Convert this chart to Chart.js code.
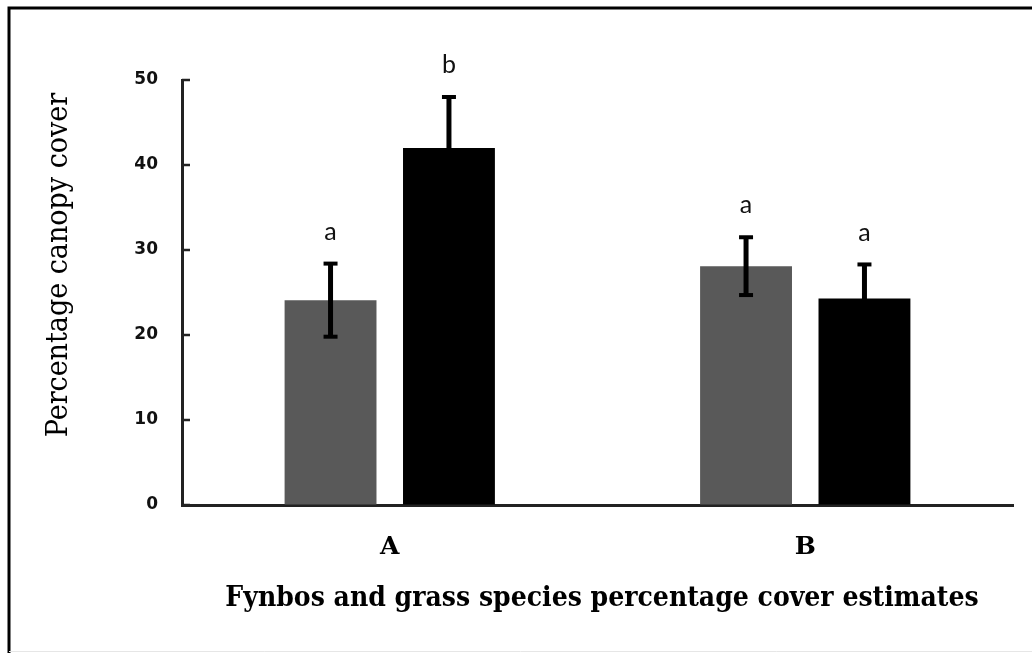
<!DOCTYPE html>
<html>
<head>
<meta charset="utf-8">
<script src="https://cdn.jsdelivr.net/npm/chart.js@4.4.1/dist/chart.umd.min.js"></script>
<style>
  html, body { margin: 0; padding: 0; background: #fff; }
  canvas { display: block; }
</style>
</head>
<body>
<canvas id="cover" width="1032" height="653"></canvas>
<script>
// DATA
const sites = ['A', 'B'];
const fynbosCover = [24.1, 28.1];
const fynbosErr = [4.3, 3.4];
const fynbosLetters = ['a', 'a'];
const grassCover = [42.0, 24.3];
const grassErr = [6.0, 4.0];
const grassLetters = ['b', 'a'];
const yTicks = [0, 10, 20, 30, 40, 50];

const errs = [fynbosErr, grassErr];
const letters = [fynbosLetters, grassLetters];

// frame, titles, inward ticks, error bars
const decor = {
    id: 'decor',
    beforeDraw(chart) {
        const c = chart.ctx;
        c.save();
        c.fillStyle = '#fff';
        c.fillRect(0, 0, chart.width, chart.height);
        c.strokeStyle = '#000';
        c.lineWidth = 3;
        c.beginPath();
        c.moveTo(9, 653); c.lineTo(9, 8); c.lineTo(1032, 8);
        c.stroke();
        c.strokeStyle = '#e6e6e6';
        c.lineWidth = 1;
        c.beginPath();
        c.moveTo(9, 651.5); c.lineTo(1032, 651.5);
        c.stroke();
        c.restore();
    },
    afterDatasetsDraw(chart) {
        const c = chart.ctx;
        const y = chart.scales.y;
        const left = chart.chartArea.left;
        c.save();
        // inward ticks
        c.strokeStyle = '#222';
        c.lineWidth = 2.5;
        yTicks.forEach(v => {
            const py = y.getPixelForValue(v);
            c.beginPath(); c.moveTo(left, py); c.lineTo(left + 8, py); c.stroke();
        });
        // error bars + letters
        chart.data.datasets.forEach((ds, di) => {
            const meta = chart.getDatasetMeta(di);
            meta.data.forEach((bar, i) => {
                const v = ds.data[i], e = errs[di][i];
                const top = y.getPixelForValue(v + e), bot = y.getPixelForValue(v - e);
                c.strokeStyle = '#000';
                c.lineWidth = 5;
                c.beginPath(); c.moveTo(bar.x, top); c.lineTo(bar.x, bot); c.stroke();
                c.lineWidth = 4;
                c.beginPath(); c.moveTo(bar.x - 7, top); c.lineTo(bar.x + 7, top); c.stroke();
                c.beginPath(); c.moveTo(bar.x - 7, bot); c.lineTo(bar.x + 7, bot); c.stroke();
                c.fillStyle = '#111';
                c.font = '25px Lato';
                c.textAlign = 'center';
                c.textBaseline = 'middle';
                c.fillText(letters[di][i], bar.x, top - 32);
            });
        });
        // axis titles
        c.fillStyle = '#000';
        c.font = 'bold 28px "DejaVu Serif Condensed", "DejaVu Serif"';
        c.textAlign = 'center';
        c.textBaseline = 'alphabetic';
        c.fillText('Fynbos and grass species percentage cover estimates', 602, 606);
        c.translate(67, 265);
        c.rotate(-Math.PI / 2);
        c.font = '30px "DejaVu Serif Condensed", "DejaVu Serif"';
        c.fillText('Percentage canopy cover', 0, 0);
        c.restore();
    }
};

new Chart(document.getElementById('cover'), {
    type: 'bar',
    data: {
        labels: sites,
        datasets: [
            { label: 'Fynbos', data: fynbosCover, backgroundColor: '#595959', categoryPercentage: 0.57, barPercentage: 0.776 },
            { label: 'Grass', data: grassCover, backgroundColor: '#000000', categoryPercentage: 0.57, barPercentage: 0.776 }
        ]
    },
    options: {
        responsive: false,
        animation: false,
        layout: { padding: { top: 80, right: 19, bottom: 0, left: 0 } },
        plugins: { legend: { display: false }, tooltip: { enabled: false } },
        scales: {
            x: {
                grid: { drawOnChartArea: false, drawTicks: false },
                border: { display: true, width: 3, color: '#222' },
                ticks: { color: '#000', padding: 27, font: { family: '"DejaVu Serif"', size: 25, weight: 'bold' } },
                afterFit: s => { s.height = 148; }
            },
            y: {
                min: 0, max: 50,
                afterBuildTicks: s => { s.ticks = yTicks.map(v => ({ value: v })); },
                grid: { drawOnChartArea: false, drawTicks: false },
                border: { display: true, width: 3, color: '#222' },
                ticks: { color: '#111', padding: 24, font: { family: '"DejaVu Sans"', size: 17, weight: 'bold' } },
                afterFit: s => { s.width = 182; }
            }
        }
    },
    plugins: [decor]
});
</script>
</body>
</html>
